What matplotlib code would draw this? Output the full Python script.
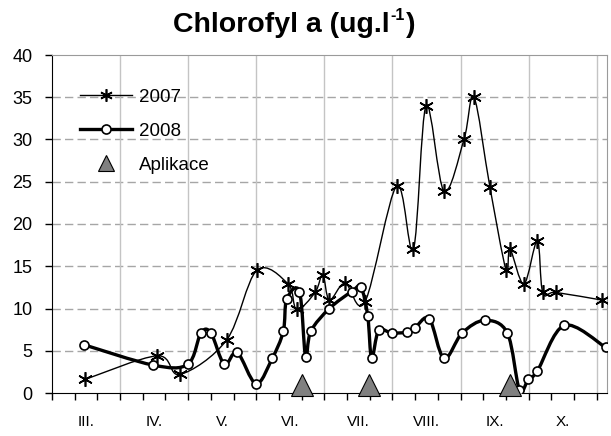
import matplotlib
matplotlib.use("Agg")
import matplotlib.pyplot as plt
from matplotlib.path import Path
from matplotlib.patches import PathPatch
from matplotlib.lines import Line2D
import matplotlib.transforms as mtrans

plt.rcParams['font.family'] = ['Liberation Sans', 'DejaVu Sans']

# x positions are days counted from 1 March (30-day month spacing on the axis)
months = ["III.", "IV.", "V.", "VI.", "VII.", "VIII.", "IX.", "X."]

day_2007 = [14.5, 46.4, 56.4, 77.0, 90.2, 104.0, 107.8, 115.9, 119.3, 122.2, 129.1,
            137.9, 151.8, 159.2, 164.8, 172.7, 181.5, 185.9, 192.9, 200.0, 201.8,
            207.9, 213.8, 216.2, 222.0, 242.2]
val_2007 = [1.6, 4.4, 2.2, 6.3, 14.5, 12.9, 9.9, 11.9, 14.0, 11.0, 13.0,
            10.8, 24.5, 17.0, 34.0, 23.9, 30.0, 35.0, 24.4, 14.6, 17.0,
            12.9, 18.0, 11.9, 11.9, 11.0]

day_2008 = [14.2, 44.6, 59.8, 65.6, 70.0, 75.9, 81.6, 89.9, 97.0, 101.9, 103.4,
            109.0, 111.7, 114.0, 122.2, 132.0, 136.1, 139.1, 140.8, 143.9, 149.6,
            156.5, 159.9, 166.2, 172.7, 180.7, 190.7, 200.6, 205.9, 209.8, 213.8,
            225.7, 243.9]
val_2008 = [5.7, 3.3, 3.4, 7.1, 7.1, 3.4, 4.8, 1.1, 4.1, 7.3, 11.1,
            12.0, 4.3, 7.3, 10.0, 12.0, 12.5, 9.1, 4.1, 7.4, 7.1,
            7.2, 7.7, 8.8, 4.1, 7.1, 8.6, 7.1, 0.4, 1.6, 2.6,
            8.0, 5.4]

day_aplikace = [110.0, 139.8, 201.8]
val_aplikace = [1.0, 1.0, 1.0]


def smooth_path(xs, ys):
    pts = list(zip(xs, ys))
    n = len(pts)
    verts = [pts[0]]
    codes = [Path.MOVETO]
    for i in range(n - 1):
        p0 = pts[i - 1] if i > 0 else pts[i]
        p1 = pts[i]
        p2 = pts[i + 1]
        p3 = pts[i + 2] if i + 2 < n else pts[i + 1]
        c1 = (p1[0] + (p2[0] - p0[0]) / 6.0, p1[1] + (p2[1] - p0[1]) / 6.0)
        c2 = (p2[0] - (p3[0] - p1[0]) / 6.0, p2[1] - (p3[1] - p1[1]) / 6.0)
        verts += [c1, c2, p2]
        codes += [Path.CURVE4] * 3
    return Path(verts, codes)


fig = plt.figure(figsize=(6.11, 4.36), dpi=100)
ax = fig.add_axes([52 / 611, 1 - 393 / 436, 555 / 611, 338 / 436])

ax.set_xlim(0, 244.5)
ax.set_ylim(0, 40)

# grid
ax.set_yticks(range(0, 41, 5))
for y in range(5, 40, 5):
    ax.axhline(y, color='#a6a6a6', lw=1.0, ls=(0, (6, 3)), zorder=0)
for xm in range(30, 241, 30):
    ax.axvline(xm, color='#c4c4c4', lw=1.0, zorder=0)

ax.set_xticks(range(0, 241, 10))
ax.set_xticklabels([])
ax.tick_params(axis='x', direction='out', length=5, width=1, colors='black')
ax.tick_params(axis='y', direction='out', length=5, width=1, labelsize=13, pad=9)

for sp in ['top', 'right']:
    ax.spines[sp].set_color('#9a9a9a')
for sp in ['left', 'bottom']:
    ax.spines[sp].set_color('black')

trans = mtrans.blended_transform_factory(ax.transData, ax.transAxes)
for i, m in enumerate(months):
    ax.text(15 + 30 * i, -0.085, m, transform=trans, ha='center', va='center', fontsize=11)

# 2007
p07 = PathPatch(smooth_path(day_2007, val_2007), fill=False, lw=1.0, ec='black',
                transform=ax.transData, zorder=3)
ax.add_patch(p07)
ax.plot(day_2007, val_2007, ls='none', marker=(6, 2, 0), ms=10.5, mec='black', mew=1.2, zorder=4)

# 2008
p08 = PathPatch(smooth_path(day_2008, val_2008), fill=False, lw=2.4, ec='black',
                transform=ax.transData, zorder=5)
ax.add_patch(p08)
ax.plot(day_2008, val_2008, ls='none', marker='o', ms=6.5, mfc='white', mec='black', mew=1.2, zorder=6)

# Aplikace
ax.plot(day_aplikace, val_aplikace, ls='none', marker='^', ms=15.5, mfc='#808080', mec='black',
        mew=0.8, zorder=7, clip_on=False)

handles = [
    Line2D([], [], color='black', lw=1.0, marker=(6, 2, 0), ms=9, mew=1.2),
    Line2D([], [], color='black', lw=2.4, marker='o', ms=6.5, mfc='white', mec='black', mew=1.2),
    Line2D([], [], ls='none', marker='^', ms=11, mfc='#808080', mec='black', mew=0.8),
]
ax.legend(handles, ['2007', '2008', 'Aplikace'], loc='upper left', numpoints=1,
          bbox_to_anchor=(0.05, 0.90), frameon=False, fontsize=13.5,
          handlelength=2.8, handletextpad=0.35, labelspacing=0.9,
          borderpad=0, borderaxespad=0)

# title with small superscript
t1 = fig.text(173 / 611, 1 - 32 / 436, 'Chlorofyl a (ug.l', ha='left', va='baseline',
              fontsize=20.5, fontweight='bold')
t2 = fig.text(0, 0, '-1', fontsize=11.5, fontweight='bold', ha='left', va='baseline')
fig.canvas.draw()
r = fig.canvas.get_renderer()
bb1 = t1.get_window_extent(r)
t2.set_position((bb1.x1 / fig.bbox.width + 1 / 611, (1 - 20 / 436)))
fig.canvas.draw()
bb2 = t2.get_window_extent(r)
fig.text(bb2.x1 / fig.bbox.width + 1 / 611, 1 - 32 / 436, ')', ha='left', va='baseline',
         fontsize=20.5, fontweight='bold')

fig.savefig('out.png', dpi=100)
